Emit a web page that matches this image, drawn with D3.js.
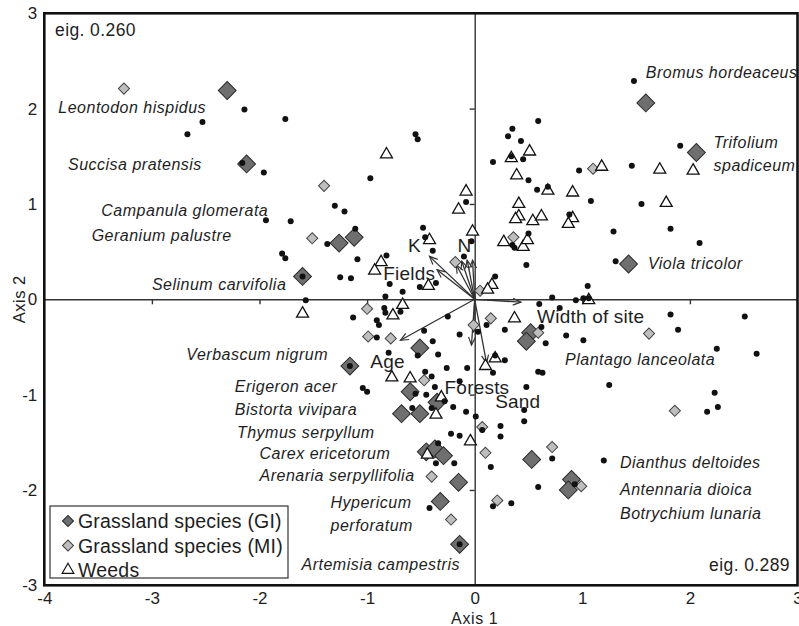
<!DOCTYPE html>
<html>
<head>
<meta charset="utf-8">
<script src="https://cdn.jsdelivr.net/npm/d3@7"></script>
<style>
  body { margin: 0; background: #fff; }
  svg { display: block; font-family: "Liberation Sans", Arial, sans-serif; }
</style>
</head>
<body>
<div id="chart"></div>
<script>
// axis ticks
const xTicks = [-4, -3, -2, -1, 0, 1, 2, 3];
const yTicks = [-3, -2, -1, 0, 1, 2, 3];

// grassland species, good indicators (dark diamonds)
const grassGI = [
  [-2.30, 2.19], [-2.12, 1.42], [-1.26, 0.59], [-1.12, 0.65], [-1.60, 0.24],
  [-1.16, -0.70], [-0.51, -0.51], [-0.60, -0.97], [-0.68, -1.20], [-0.51, -1.20],
  [-0.35, -1.08], [-0.45, -1.60], [-0.37, -1.57], [-0.29, -1.64], [-0.15, -1.92],
  [-0.32, -2.12], [-0.14, -2.57], [1.59, 2.06], [2.06, 1.54], [1.43, 0.37],
  [0.52, -0.35], [0.48, -0.44], [0.53, -1.68], [0.90, -1.89], [0.87, -2.00]
];

// grassland species, moderate indicators (light diamonds)
const grassMI = [
  [-3.26, 2.21], [-1.40, 1.19], [-1.51, 0.64], [-1.00, -0.10], [-0.99, -0.39],
  [-0.78, -0.41], [-0.18, 0.39], [0.05, 0.09], [0.36, 0.65], [1.10, 1.37],
  [0.15, -0.20], [-0.01, -0.27], [0.59, -0.35], [1.62, -0.36], [1.86, -1.17],
  [-0.47, -0.85], [0.07, -1.34], [0.10, -1.61], [0.72, -1.55], [0.99, -1.96],
  [0.21, -2.11], [-0.40, -1.86], [-0.22, -2.31]
];

// weeds (open triangles)
const weeds = [
  [-0.82, 1.52], [-0.08, 1.13], [-0.15, 0.94], [-0.02, 0.71], [-0.42, 0.62],
  [-0.87, 0.39], [-0.93, 0.30], [-0.43, 0.14], [-0.67, -0.06], [-1.60, -0.15],
  [-0.76, -0.17], [-0.77, -0.82], [-0.60, -0.83], [-0.31, -1.03], [-0.36, -1.21],
  [-0.04, -1.49], [-0.44, -1.63], [0.16, 0.15], [0.12, 0.10], [0.19, -0.62],
  [0.10, -0.70], [0.37, -0.20], [1.06, -0.01], [0.51, 1.55], [0.34, 1.48],
  [0.39, 1.30], [0.68, 1.14], [0.91, 1.12], [1.18, 1.39], [1.72, 1.36],
  [2.03, 1.35], [1.78, 1.01], [0.41, 1.00], [0.41, 0.87], [0.38, 0.84],
  [0.54, 0.82], [0.62, 0.87], [0.91, 0.85], [0.87, 0.79], [0.27, 0.60],
  [0.45, 0.55], [0.49, 0.62]
];

// other species (small black dots)
const others = [
  [-2.14, 1.99], [-2.53, 1.86], [-2.67, 1.73], [-1.76, 1.89], [-2.16, 1.43],
  [-1.96, 1.33], [-0.97, 1.27], [-1.30, 0.98], [-1.21, 0.92], [-1.94, 0.83],
  [-1.71, 0.82], [-1.11, 0.74], [-1.37, 0.58], [-1.79, 0.48], [-1.76, 0.43],
  [-1.09, 0.42], [-0.82, 0.46], [-1.60, 0.24], [-1.25, 0.23], [-1.15, 0.22],
  [-0.79, 0.16], [-0.83, 0.03], [-1.57, -0.01], [-1.13, -0.19], [-0.55, 1.73],
  [-0.53, 1.68], [-0.08, 1.02], [-0.03, 0.61], [-0.48, 0.75], [-0.46, 0.65],
  [-0.39, 0.51], [-0.10, 0.45], [-0.51, 0.13], [-0.36, 0.17], [-0.67, 0.08],
  [-0.91, -0.22], [-0.89, -0.27], [-0.69, -0.13], [-0.84, -0.09], [-0.83, -0.14],
  [-0.25, -0.18], [-0.47, -0.33], [-0.91, -0.40], [-0.39, -0.44], [-0.14, -0.37],
  [-0.53, -0.59], [-0.80, -0.56], [-0.34, -0.58], [-0.26, -0.72], [-0.07, -0.72],
  [-1.16, -0.70], [-0.46, -0.76], [-0.40, -0.81], [-0.37, -0.92], [-0.14, -0.86],
  [-1.04, -0.93], [-1.00, -0.97], [-0.55, -0.99], [-0.45, -1.00], [-0.28, -1.07],
  [-0.20, -1.13], [-0.58, -1.14], [-0.40, -1.14], [-0.08, -1.18], [-0.22, -1.41],
  [-0.14, -1.43], [-0.34, -1.51], [-0.36, -1.72], [-0.19, -1.72], [-0.42, -2.19],
  [-0.14, -2.57],
  [0.19, 0.24], [0.48, 0.36], [0.35, 0.57], [0.37, 0.54], [0.50, 0.69],
  [0.59, 1.87], [0.35, 1.79], [0.31, 1.71], [0.43, 1.66], [0.34, 1.50],
  [0.45, 1.47], [0.17, 1.44], [0.50, 1.25], [0.58, 1.15], [0.68, 1.18],
  [0.97, 1.35], [1.46, 1.40], [1.08, 1.03], [0.88, 0.89], [1.29, 0.71],
  [1.48, 2.29], [1.91, 1.61], [1.55, 1.00], [1.82, 0.74], [2.09, 0.59],
  [1.31, 0.40], [1.05, 0.14], [0.72, 0.02], [0.94, -0.01], [1.01, 0.01],
  [1.06, 0.01], [0.60, -0.05], [0.79, -0.09], [0.11, -0.27], [0.03, -0.34],
  [0.28, -0.32], [0.62, -0.29], [0.66, -0.46], [0.85, -0.38], [1.01, -0.43],
  [1.82, -0.16], [2.51, -0.18], [1.89, -0.32], [2.25, -0.52], [2.62, -0.57],
  [0.19, -0.59], [0.28, -0.64], [0.17, -0.77], [0.59, -0.76], [0.63, -0.77],
  [0.48, -0.92], [1.25, -0.90], [2.23, -0.98], [2.26, -1.13], [2.16, -1.18],
  [0.46, -1.16], [0.46, -1.28], [0.01, -1.23], [0.07, -1.37], [0.24, -1.33],
  [0.24, -1.44], [0.15, -1.76], [0.72, -1.67], [1.20, -1.69], [0.93, -1.94],
  [0.59, -1.97], [0.17, -2.17], [0.34, -2.14]
];

// environmental vectors (arrow tips)
const envVectors = [
  [-0.42, 0.45], [-0.35, 0.31], [-0.17, 0.36], [-0.12, 0.40], [-0.07, 0.41],
  [-0.02, 0.41], [0.43, -0.03], [-0.69, -0.43], [-0.03, -0.48], [-0.01, -0.34],
  [0.11, -0.67]
];

// environmental labels: text, x, y (data units, left edge / middle)
const envLabels = [
  ["K", -0.62, 0.57], ["N", -0.16, 0.57], ["Fields", -0.85, 0.27],
  ["Width of site", 0.58, -0.18], ["Age", -0.97, -0.65],
  ["Forests", -0.28, -0.92], ["Sand", 0.19, -1.07]
];

// species names: text, x, y (data units, left edge / middle)
const speciesLabels = [
  ["Leontodon hispidus", -3.87, 2.01], ["Succisa pratensis", -3.78, 1.42],
  ["Campanula glomerata", -3.47, 0.93], ["Geranium palustre", -3.56, 0.67],
  ["Selinum carvifolia", -3.00, 0.16], ["Verbascum nigrum", -2.68, -0.58],
  ["Erigeron acer", -2.23, -0.91], ["Bistorta vivipara", -2.23, -1.15],
  ["Thymus serpyllum", -2.21, -1.40], ["Carex ericetorum", -2.00, -1.62],
  ["Arenaria serpyllifolia", -2.00, -1.85], ["Hypericum", -1.34, -2.13],
  ["perforatum", -1.34, -2.37], ["Artemisia campestris", -1.61, -2.78],
  ["Bromus hordeaceus", 1.59, 2.38], ["Trifolium", 2.22, 1.65],
  ["spadiceum", 2.22, 1.40], ["Viola tricolor", 1.61, 0.38],
  ["Plantago lanceolata", 0.84, -0.63], ["Dianthus deltoides", 1.35, -1.71],
  ["Antennaria dioica", 1.35, -1.99], ["Botrychium lunaria", 1.35, -2.25]
];

const eigLabels = [["eig. 0.260", -3.90, 2.83, "start"], ["eig. 0.289", 2.93, -2.79, "end"]];

const legendItems = ["Grassland species (GI)", "Grassland species (MI)", "Weeds"];

const width = 799;
const height = 626;
const ink = "#1e1e1e";
const giFill = "#6f6f6f";
const miFill = "#bebebe";

const svg = d3.select("#chart").append("svg")
  .attr("width", width)
  .attr("height", height);

const x = d3.scaleLinear().domain([-4, 3]).range([44.3, 797.5]);
const y = d3.scaleLinear().domain([-3, 3]).range([585.3, 13.3]);

// arrow marker
svg.append("defs").append("marker")
  .attr("id", "arrow")
  .attr("viewBox", "-10 -5 12 10")
  .attr("refX", 0)
  .attr("refY", 0)
  .attr("markerWidth", 12)
  .attr("markerHeight", 10)
  .attr("markerUnits", "userSpaceOnUse")
  .attr("orient", "auto")
  .append("path")
  .attr("d", "M-8,-3.5L0,0L-8,3.5")
  .attr("fill", "none")
  .attr("stroke", "#333")
  .attr("stroke-width", 1.2);

// outer tick labels
const fmt = (d) => String(d);
svg.append("g")
  .attr("transform", `translate(0,${y(-3)})`)
  .call(d3.axisBottom(x).tickValues(xTicks).tickFormat(fmt).tickSize(0).tickPadding(7))
  .call((g) => g.select(".domain").remove())
  .call((g) => g.selectAll("text").attr("fill", ink).style("font-size", "17px"));

svg.append("g")
  .attr("transform", `translate(${x(-4)},0)`)
  .call(d3.axisLeft(y).tickValues(yTicks).tickFormat(fmt).tickSize(0).tickPadding(7))
  .call((g) => g.select(".domain").remove())
  .call((g) => g.selectAll("text").attr("fill", ink).style("font-size", "17px"));

svg.append("text")
  .attr("x", x(0))
  .attr("y", 624)
  .attr("text-anchor", "middle")
  .attr("fill", ink)
  .style("font-size", "16px")
  .style("letter-spacing", "0.6px")
  .text("Axis 1");

svg.append("text")
  .attr("transform", `translate(25,${y(0)}) rotate(-90)`)
  .attr("text-anchor", "middle")
  .attr("fill", ink)
  .style("font-size", "16.5px")
  .style("letter-spacing", "0.5px")
  .text("Axis 2");

// inner cross axes
svg.append("g")
  .attr("transform", `translate(0,${y(0)})`)
  .call(d3.axisBottom(x).tickValues([-3, -2, -1, 1, 2]).tickFormat("").tickSize(5).tickSizeOuter(0))
  .call((g) => g.selectAll("line, path").attr("stroke", "#333").attr("stroke-width", 1.4));

svg.append("g")
  .attr("transform", `translate(${x(0)},0)`)
  .call(d3.axisLeft(y).tickValues([-2, -1, 1, 2]).tickFormat("").tickSize(5).tickSizeOuter(0))
  .call((g) => g.selectAll("line, path").attr("stroke", "#333").attr("stroke-width", 1.4));

// environmental arrows
svg.append("g")
  .selectAll("line")
  .data(envVectors)
  .join("line")
  .attr("x1", x(0))
  .attr("y1", y(0))
  .attr("x2", (d) => x(d[0]))
  .attr("y2", (d) => y(d[1]))
  .attr("stroke", "#333")
  .attr("stroke-width", 1.3)
  .attr("marker-end", "url(#arrow)");

// markers
const diamondGI = d3.symbol(d3.symbolSquare, 160);
const diamondMI = d3.symbol(d3.symbolSquare, 62);
const triangle = d3.symbol(d3.symbolTriangle, 62);

svg.append("g")
  .selectAll("path")
  .data(grassGI)
  .join("path")
  .attr("d", diamondGI)
  .attr("transform", (d) => `translate(${x(d[0])},${y(d[1])}) rotate(45)`)
  .attr("fill", giFill)
  .attr("stroke", "#2a2a2a")
  .attr("stroke-width", 1);

svg.append("g")
  .selectAll("path")
  .data(grassMI)
  .join("path")
  .attr("d", diamondMI)
  .attr("transform", (d) => `translate(${x(d[0])},${y(d[1])}) rotate(45)`)
  .attr("fill", miFill)
  .attr("stroke", "#444")
  .attr("stroke-width", 1);

svg.append("g")
  .selectAll("path")
  .data(weeds)
  .join("path")
  .attr("d", triangle)
  .attr("transform", (d) => `translate(${x(d[0])},${y(d[1])})`)
  .attr("fill", "#fff")
  .attr("stroke", "#111")
  .attr("stroke-width", 1.3);

svg.append("g")
  .selectAll("circle")
  .data(others)
  .join("circle")
  .attr("cx", (d) => x(d[0]))
  .attr("cy", (d) => y(d[1]))
  .attr("r", 3)
  .attr("fill", "#111");

// species names
svg.append("g")
  .selectAll("text")
  .data(speciesLabels)
  .join("text")
  .attr("x", (d) => x(d[1]))
  .attr("y", (d) => y(d[2]))
  .attr("dy", "0.35em")
  .attr("fill", ink)
  .style("font-size", "16px")
  .style("font-style", "italic")
  .style("letter-spacing", "0.5px")
  .text((d) => d[0]);

// environmental variable names
svg.append("g")
  .selectAll("text")
  .data(envLabels)
  .join("text")
  .attr("x", (d) => x(d[1]))
  .attr("y", (d) => y(d[2]))
  .attr("dy", "0.35em")
  .attr("fill", ink)
  .style("font-size", "19px")
  .style("letter-spacing", "0.2px")
  .text((d) => d[0]);

// eigenvalues
svg.append("g")
  .selectAll("text")
  .data(eigLabels)
  .join("text")
  .attr("x", (d) => x(d[1]))
  .attr("y", (d) => y(d[2]))
  .attr("dy", "0.35em")
  .attr("text-anchor", (d) => d[3])
  .attr("fill", ink)
  .style("font-size", "17.5px")
  .style("letter-spacing", "0.4px")
  .text((d) => d[0]);

// frame
svg.append("rect")
  .attr("x", x(-4))
  .attr("y", y(3))
  .attr("width", x(3) - x(-4))
  .attr("height", y(-3) - y(3))
  .attr("fill", "none")
  .attr("stroke", "#111")
  .attr("stroke-width", 2.6);

// legend
const legend = svg.append("g").attr("transform", "translate(50,506)");
legend.append("rect")
  .attr("width", 238)
  .attr("height", 72)
  .attr("fill", "#fff")
  .attr("stroke", "#333")
  .attr("stroke-width", 1.2);

const legendSymbols = [
  { d: d3.symbol(d3.symbolSquare, 60)(), rot: 45, fill: giFill, stroke: "#2a2a2a" },
  { d: d3.symbol(d3.symbolSquare, 60)(), rot: 45, fill: miFill, stroke: "#444" },
  { d: d3.symbol(d3.symbolTriangle, 60)(), rot: 0, fill: "#fff", stroke: "#111" }
];

const rows = legend.selectAll("g.row")
  .data(legendItems)
  .join("g")
  .attr("class", "row")
  .attr("transform", (d, i) => `translate(18,${15 + i * 24.5})`);

rows.append("path")
  .attr("d", (d, i) => legendSymbols[i].d)
  .attr("transform", (d, i) => `rotate(${legendSymbols[i].rot})`)
  .attr("fill", (d, i) => legendSymbols[i].fill)
  .attr("stroke", (d, i) => legendSymbols[i].stroke)
  .attr("stroke-width", 1.1);

rows.append("text")
  .attr("x", 10)
  .attr("dy", "0.36em")
  .attr("fill", ink)
  .style("font-size", "19.5px")
  .style("letter-spacing", "0.2px")
  .text((d) => d);
</script>
</body>
</html>
